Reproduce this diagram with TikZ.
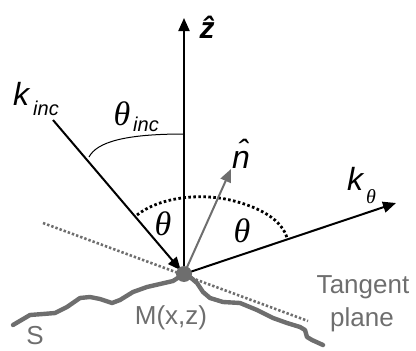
\documentclass[tikz,border=0pt]{standalone}
\usepackage{fontspec}
\setmainfont{Liberation Sans}
\newfontfamily\serifgr{Liberation Serif}
\usetikzlibrary{arrows.meta}
\definecolor{gray1}{RGB}{110,110,110}
\tikzset{
  vec/.style={line width=2pt, draw=black, -{Triangle[length=13pt,width=11pt]}},
  nvec/.style={line width=2pt, draw=gray1, -{Triangle[length=13pt,width=11pt]}},
  dotline/.style={line width=2.6pt, draw=gray1, dash pattern=on 2.4pt off 2pt},
  dotarc/.style={line width=2.8pt, draw=black, dash pattern=on 2.6pt off 2.4pt},
  surf/.style={line width=4.4pt, draw=gray1, line join=round, line cap=round},
  lbl/.style={inner sep=0pt, font=\fontsize{26}{26}\selectfont},
  glbl/.style={lbl, text=gray1},
  big/.style={inner sep=0pt, font=\fontsize{32}{32}\selectfont\itshape},
  sub/.style={inner sep=0pt, font=\fontsize{20}{20}\selectfont\itshape},
  th/.style={inner sep=0pt, font=\fontsize{34}{34}\selectfont\serifgr\itshape},
  thsub/.style={inner sep=0pt, font=\fontsize{20}{20}\selectfont\serifgr\itshape},
}
\begin{document}
\begin{tikzpicture}[x=1pt,y=-1pt]
\useasboundingbox (0,0) rectangle (416,351);
\coordinate (M) at (184,274);
\coordinate (ztip) at (184,18);
\coordinate (kinc) at (53,120);
\coordinate (ntip) at (231,169);
\coordinate (kth) at (396,203);
\coordinate (tpA) at (43,223);
\coordinate (tpB) at (308,321);
% surface
\draw[surf] (13,325) -- (30,315) -- (43,314) -- (55,313) -- (67,307) -- (80,298) -- (90,297) -- (100,299) -- (112,303) -- (120,300) -- (133,292) -- (147,287) -- (160,284) -- (173,281) -- (M)
  -- (190,277) -- (197,283) -- (203,292) -- (210,298) -- (223,302) -- (240,303) -- (257,310) -- (273,318) -- (287,323) -- (300,327) -- (305,330) -- (307,337) -- (312,340) -- (323,345);
% tangent plane
\draw[dotline] (tpA) -- (tpB);
% dotted arc
\draw[dotarc] (137,215) .. controls (160,197) and (200,193) .. (230,200) .. controls (260,207) and (282,220) .. (287,238);
% theta_inc arc
\draw[line width=1pt] (89,157) .. controls (97,142) and (125,134) .. (184,134);
% vectors
\draw[vec] (M) -- (ztip);
\draw[vec, shorten >=5pt] (kinc) -- (M);
\draw[nvec] (M) -- (ntip);
\draw[vec] (M) -- (kth);
% point M
\node[circle, fill=gray1, inner sep=0pt, minimum size=16pt] (Mdot) at (M) {};
% labels
\node[big, font=\fontsize{30}{30}\selectfont\bfseries\itshape] (zl) at (207,27) {\^{z}};
\node[big] (kl) at (21,94) {k};
\node[sub] (kinl) at (46,108) {inc};
\node[th] (thinc) at (122,114) {θ};
\node[sub] (thincs) at (146,124) {inc};
\node[big] (nl) at (241,154) {\^{n}};
\node[big] (kthl) at (355,179) {k};
\node[thsub] (kths) at (371,197) {θ};
\node[th] (th1) at (163,224) {θ};
\node[th] (th2) at (242,231) {θ};
\node[glbl] (Ml) at (171,318) {M(x,z)};
\node[glbl] (tl1) at (363,287) {Tangent};
\node[glbl] (tl2) at (362,320) {plane};
\node[glbl] (Sl) at (35,336) {S};
\end{tikzpicture}
\end{document}
